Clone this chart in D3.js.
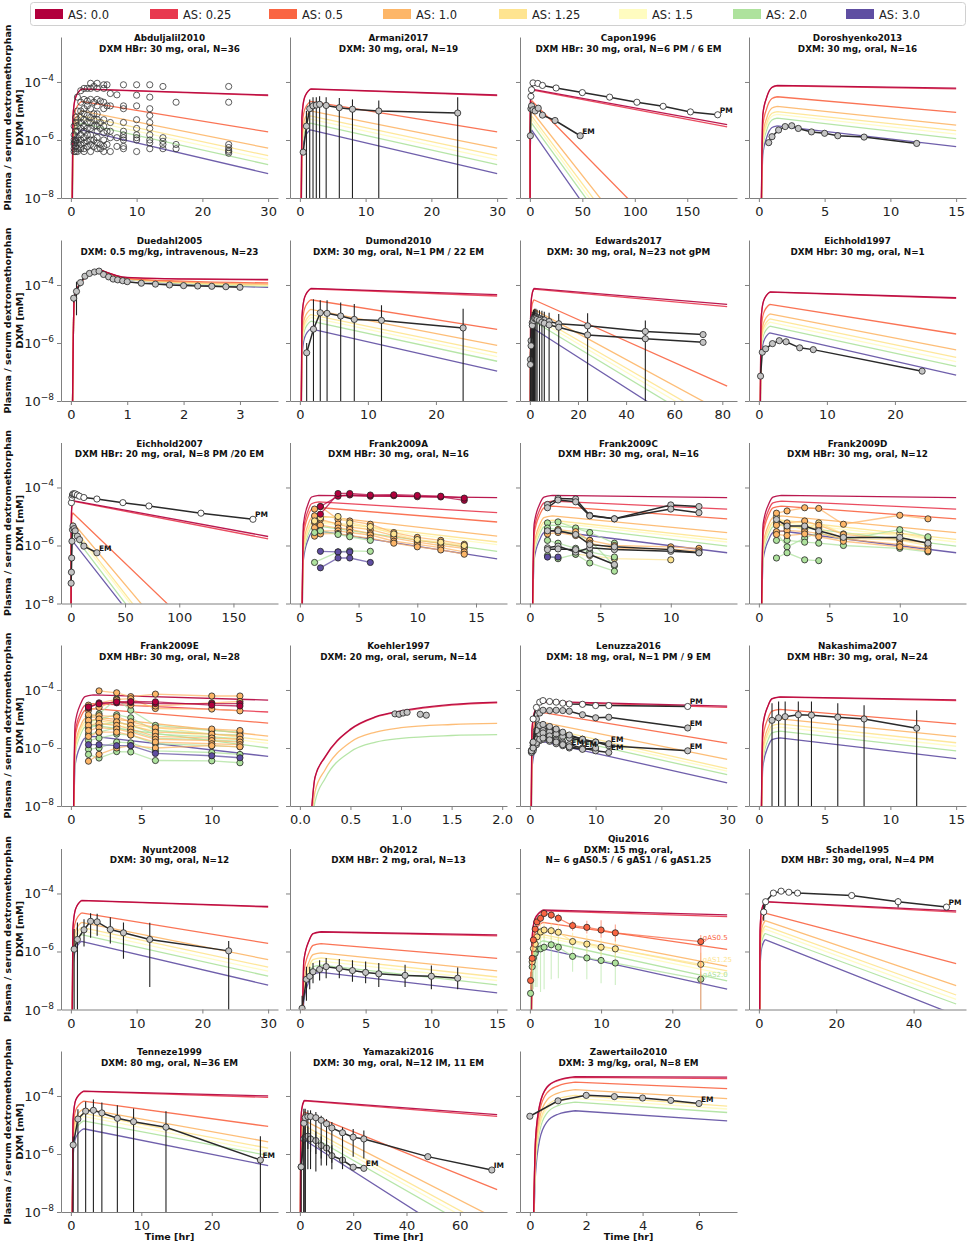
<!DOCTYPE html>
<html><head><meta charset="utf-8">
<script src="https://cdn.jsdelivr.net/npm/d3@7"></script>
<style>body{margin:0;background:#fff}svg{display:block}text{font-family:"DejaVu Sans",sans-serif}</style>
</head><body><svg id="c" width="969" height="1243"></svg>
<script>
// ---------- categories / legend ----------
const asLabels = ["AS: 0.0","AS: 0.25","AS: 0.5","AS: 1.0","AS: 1.25","AS: 1.5","AS: 2.0","AS: 3.0"];
const asColors = ["#b2003d","#e8394f","#fa6542","#fdb668","#fee490","#fffcc0","#aee29d","#5f4ea2"];

// ---------- panels ----------
const studies = ["Abduljalil2010","Armani2017","Capon1996","Doroshyenko2013","Duedahl2005","Dumond2010","Edwards2017","Eichhold1997","Eichhold2007","Frank2009A","Frank2009C","Frank2009D","Frank2009E","Koehler1997","Lenuzza2016","Nakashima2007","Nyunt2008","Oh2012","Qiu2016","Schadel1995","Tenneze1999","Yamazaki2016","Zawertailo2010"];
const subtitles = [
 ["DXM HBr: 30 mg, oral, N=36"],["DXM: 30 mg, oral, N=19"],["DXM HBr: 30 mg, oral, N=6 PM / 6 EM"],["DXM: 30 mg, oral, N=16"],
 ["DXM: 0.5 mg/kg, intravenous, N=23"],["DXM: 30 mg, oral,  N=1 PM / 22 EM"],["DXM: 30 mg, oral, N=23 not gPM"],["DXM Hbr: 30 mg, oral, N=1"],
 ["DXM HBr: 20 mg, oral, N=8 PM /20 EM"],["DXM HBr: 30 mg, oral, N=16"],["DXM HBr: 30 mg, oral, N=16"],["DXM HBr: 30 mg, oral, N=12"],
 ["DXM HBr: 30 mg, oral, N=28"],["DXM: 20 mg, oral, serum, N=14"],["DXM: 18 mg, oral, N=1 PM / 9 EM"],["DXM HBr: 30 mg, oral, N=24"],
 ["DXM: 30 mg, oral, N=12"],["DXM HBr: 2 mg, oral, N=13"],["DXM: 15 mg, oral,","N= 6 gAS0.5 / 6 gAS1 / 6 gAS1.25"],["DXM HBr: 30 mg, oral, N=4 PM"],
 ["DXM: 80 mg, oral, N=36 EM"],["DXM: 30 mg, oral, N=12 IM, 11 EM"],["DXM: 3 mg/kg, oral, N=8 EM"]];
const xMax = [30,30,188,15,3.5,29,82,29,182,16.8,14,14,14,1.95,30,15,30,15,27.7,51,28,74,7];
const xTicks = [[0,10,20,30],[0,10,20,30],[0,50,100,150],[0,5,10,15],[0,1,2,3],[0,10,20],[0,20,40,60,80],[0,10,20],
 [0,50,100,150],[0,5,10,15],[0,5,10],[0,5,10],[0,5,10],[0,0.5,1,1.5,2],[0,10,20,30],[0,5,10,15],
 [0,10,20,30],[0,5,10,15],[0,10,20],[0,20,40],[0,10,20],[0,20,40,60],[0,2,4,6]];
const yTicks = [1e-4,1e-6,1e-8];
const yTickExp = ["4","6","8"];
const yDomain = [1e-8, 3.55e-3];

// ---------- model simulations (log10 mM) per panel, 8 AS curves each ----------
const simOral30HBr = [[-10,-5.24,-4.54,-4.24,-4.45],[-10,-5.25,-4.55,-4.25,-4.47],[-10,-5.67,-4.97,-4.67,-5.72],[-10,-6.0,-5.3,-5.0,-6.28],[-10,-6.17,-5.47,-5.17,-6.54],[-10,-6.28,-5.58,-5.28,-6.68],[-10,-6.42,-5.72,-5.42,-6.85],[-10,-6.65,-5.95,-5.65,-7.16]];
const simFrankCD = [[-10,-5.27,-4.57,-4.33,-4.27,-4.35],[-10,-5.47,-4.77,-4.53,-4.47,-4.75],[-10,-5.64,-4.94,-4.7,-4.64,-5.08],[-10,-5.98,-5.28,-5.04,-4.98,-5.56],[-10,-6.13,-5.43,-5.19,-5.13,-5.79],[-10,-6.2,-5.5,-5.26,-5.2,-5.88],[-10,-6.3,-5.6,-5.36,-5.3,-6.02],[-10,-6.5,-5.8,-5.56,-5.5,-6.25]];
const simTimes = [
 [0.15,0.3,0.7,1.6,30],[0.15,0.3,0.7,1.6,30],[0.15,0.3,0.7,1.6,188],[0.15,0.3,0.6,1.0,1.4,15],
 [0.02,0.06,0.2,0.35,0.5,1.0,2.0,3.5],[0.15,0.3,0.7,1.6,29],[0.15,0.3,0.7,1.6,82],[0.15,0.3,0.7,1.6,29],
 [0.15,0.3,0.7,1.6,182],[0.15,0.3,0.7,1.0,1.6,16.8],[0.15,0.3,0.7,1.0,1.6,14],[0.15,0.3,0.7,1.0,1.6,14],
 [0.15,0.3,0.7,1.0,1.6,14],[0.08,0.15,0.25,0.5,0.75,1.0,1.5,1.95],[0.15,0.3,0.8,1.8,30],[0.15,0.3,0.7,1.0,1.6,15],
 [0.15,0.3,0.7,1.6,30],[0.15,0.3,0.7,1.0,1.6,15],[0.15,0.3,0.7,1.8,27.7],[0.15,0.3,0.7,1.6,51],
 [0.15,0.3,0.7,1.8,28],[0.15,0.3,0.7,1.6,74],[0.1,0.2,0.35,0.6,1.0,1.6,7]];
const simLog10 = [
 simOral30HBr,
 simOral30HBr,
 [[-10,-5.25,-4.55,-4.25,-5.47],[-10,-5.27,-4.57,-4.27,-5.55],[-10,-5.64,-4.94,-4.64,-11.5],[-10,-6.0,-5.3,-5.0,-13.56],[-10,-6.17,-5.47,-5.17,-14.17],[-10,-6.28,-5.58,-5.28,-14.47],[-10,-6.42,-5.72,-5.42,-14.72],[-10,-6.65,-5.95,-5.65,-15.32]],
 [[-10,-5.12,-4.52,-4.18,-4.12,-4.21],[-10,-5.13,-4.53,-4.19,-4.13,-4.24],[-10,-5.51,-4.91,-4.57,-4.51,-5.05],[-10,-5.84,-5.24,-4.9,-4.84,-5.49],[-10,-6.02,-5.42,-5.08,-5.02,-5.68],[-10,-6.12,-5.52,-5.18,-5.12,-5.8],[-10,-6.25,-5.65,-5.31,-5.25,-5.95],[-10,-6.51,-5.91,-5.57,-5.51,-6.23]],
 [[-10,-4.4,-3.85,-3.6,-3.46,-3.74,-3.79,-3.81],[-10,-4.4,-3.85,-3.6,-3.46,-3.75,-3.8,-3.83],[-10,-4.4,-3.85,-3.6,-3.47,-3.77,-3.87,-3.93],[-10,-4.4,-3.85,-3.6,-3.47,-3.78,-3.9,-3.97],[-10,-4.4,-3.85,-3.6,-3.47,-3.79,-3.92,-4.0],[-10,-4.4,-3.85,-3.6,-3.47,-3.79,-3.93,-4.01],[-10,-4.4,-3.85,-3.6,-3.47,-3.8,-3.95,-4.04],[-10,-4.4,-3.85,-3.6,-3.47,-3.8,-3.97,-4.08]],
 [[-10,-5.12,-4.42,-4.12,-4.33],[-10,-5.13,-4.43,-4.13,-4.38],[-10,-5.51,-4.81,-4.51,-5.53],[-10,-5.84,-5.14,-4.84,-6.08],[-10,-6.02,-5.32,-5.02,-6.34],[-10,-6.12,-5.42,-5.12,-6.47],[-10,-6.25,-5.55,-5.25,-6.63],[-10,-6.51,-5.81,-5.51,-6.97]],
 [[-10,-5.12,-4.42,-4.12,-4.67],[-10,-5.14,-4.44,-4.14,-4.75],[-10,-5.51,-4.81,-4.51,-7.49],[-10,-5.84,-5.14,-4.84,-8.46],[-10,-6.02,-5.32,-5.02,-8.88],[-10,-6.12,-5.42,-5.12,-9.06],[-10,-6.25,-5.55,-5.25,-9.28],[-10,-6.51,-5.81,-5.51,-9.78]],
 [[-10,-5.24,-4.54,-4.24,-4.44],[-10,-5.25,-4.55,-4.25,-4.46],[-10,-5.67,-4.97,-4.67,-5.69],[-10,-6.0,-5.3,-5.0,-6.24],[-10,-6.17,-5.47,-5.17,-6.5],[-10,-6.28,-5.58,-5.28,-6.64],[-10,-6.42,-5.72,-5.42,-6.81],[-10,-6.65,-5.95,-5.65,-7.11]],
 [[-10,-5.45,-4.75,-4.45,-5.69],[-10,-5.47,-4.77,-4.47,-5.77],[-10,-5.87,-5.17,-4.87,-11.35],[-10,-6.2,-5.5,-5.2,-13.2],[-10,-6.35,-5.65,-5.35,-14.0],[-10,-6.45,-5.75,-5.45,-14.1],[-10,-6.6,-5.9,-5.6,-14.5],[-10,-6.85,-6.15,-5.85,-14.45]],
 [[-10,-5.27,-4.57,-4.33,-4.27,-4.35],[-10,-5.5,-4.8,-4.56,-4.5,-4.87],[-10,-5.69,-4.99,-4.75,-4.69,-5.19],[-10,-5.98,-5.28,-5.04,-4.98,-5.68],[-10,-6.16,-5.46,-5.22,-5.16,-5.88],[-10,-6.21,-5.51,-5.27,-5.21,-5.97],[-10,-6.33,-5.63,-5.39,-5.33,-6.2],[-10,-6.5,-5.8,-5.56,-5.5,-6.46]],
 simFrankCD,
 simFrankCD,
 [[-10,-5.17,-4.47,-4.23,-4.17,-4.35],[-10,-5.47,-4.77,-4.53,-4.47,-4.76],[-10,-5.64,-4.94,-4.7,-4.64,-5.14],[-10,-5.93,-5.23,-4.99,-4.93,-5.59],[-10,-6.05,-5.35,-5.11,-5.05,-5.74],[-10,-6.13,-5.43,-5.19,-5.13,-5.84],[-10,-6.22,-5.52,-5.28,-5.22,-6.0],[-10,-6.6,-5.9,-5.66,-5.6,-6.29]],
 [[-10,-7.0,-6.3,-5.35,-4.92,-4.72,-4.5,-4.42],[-10,-7.02,-6.32,-5.37,-4.94,-4.74,-4.52,-4.44],null,[-10,-7.5,-6.75,-5.8,-5.45,-5.3,-5.19,-5.15],null,null,[-10,-7.85,-7.05,-6.13,-5.8,-5.67,-5.57,-5.54],null],
 [[-10,-5.39,-4.69,-4.39,-4.56],[-10,-5.41,-4.71,-4.41,-4.6],[-10,-5.77,-5.07,-4.77,-5.83],[-10,-6.11,-5.41,-5.11,-6.39],[-10,-6.28,-5.58,-5.28,-6.71],[-10,-6.38,-5.68,-5.38,-6.8],[-10,-6.5,-5.8,-5.5,-6.92],[-10,-6.77,-6.07,-5.77,-7.2]],
 [[-10,-5.24,-4.54,-4.3,-4.24,-4.34],[-10,-5.25,-4.55,-4.31,-4.25,-4.37],[-10,-5.67,-4.97,-4.73,-4.67,-5.17],[-10,-6.0,-5.3,-5.06,-5.0,-5.61],[-10,-6.17,-5.47,-5.23,-5.17,-5.82],[-10,-6.28,-5.58,-5.34,-5.28,-5.94],[-10,-6.42,-5.72,-5.48,-5.42,-6.1],[-10,-6.65,-5.95,-5.71,-5.65,-6.37]],
 simOral30HBr,
 [[-10,-6.32,-5.62,-5.38,-5.32,-5.43],[-10,-6.33,-5.63,-5.39,-5.33,-5.46],[-10,-6.73,-6.03,-5.79,-5.73,-6.24],[-10,-7.05,-6.35,-6.11,-6.05,-6.67],[-10,-7.22,-6.52,-6.28,-6.22,-6.88],[-10,-7.33,-6.63,-6.39,-6.33,-7.0],[-10,-7.47,-6.77,-6.53,-6.47,-7.15],[-10,-7.72,-7.02,-6.78,-6.72,-7.43]],
 [[-10,-5.57,-4.87,-4.57,-4.74],[-10,-5.6,-4.9,-4.6,-4.8],[-10,-6.0,-5.3,-5.0,-5.93],[-10,-6.28,-5.58,-5.28,-6.51],[-10,-6.42,-5.72,-5.42,-6.67],[-10,-6.5,-5.8,-5.5,-6.8],[-10,-6.63,-5.93,-5.63,-7.01],[-10,-6.9,-6.2,-5.9,-7.3]],
 [[-10,-5.28,-4.58,-4.28,-4.6],[-10,-5.29,-4.59,-4.29,-4.64],[-10,-5.68,-4.98,-4.68,-6.42],[-10,-5.94,-5.24,-4.94,-7.18],[-10,-6.12,-5.42,-5.12,-7.5],[-10,-6.23,-5.53,-5.23,-7.65],[-10,-6.38,-5.68,-5.38,-7.81],[-10,-6.59,-5.89,-5.59,-8.2]],
 [[-10,-4.83,-4.13,-3.83,-4.0],[-10,-4.84,-4.14,-3.84,-4.05],[-10,-5.18,-4.48,-4.18,-5.05],[-10,-5.44,-4.74,-4.44,-5.58],[-10,-5.6,-4.9,-4.6,-5.8],[-10,-5.7,-5.0,-4.7,-5.93],[-10,-5.86,-5.16,-4.86,-6.05],[-10,-6.13,-5.43,-5.13,-6.4]],
 [[-10,-5.15,-4.45,-4.15,-4.64],[-10,-5.17,-4.47,-4.17,-4.7],[-10,-5.55,-4.85,-4.55,-7.23],[-10,-5.84,-5.14,-4.84,-8.25],[-10,-6.02,-5.32,-5.02,-8.65],[-10,-6.12,-5.42,-5.12,-8.82],[-10,-6.25,-5.55,-5.25,-9.05],[-10,-6.51,-5.81,-5.51,-9.76]],
 [[-10,-5.5,-4.3,-3.7,-3.45,-3.33,-3.35],[-10,-5.5,-4.32,-3.72,-3.47,-3.36,-3.4],[-10,-5.7,-4.5,-3.9,-3.65,-3.52,-3.75],[-10,-5.95,-4.75,-4.15,-3.9,-3.78,-4.09],[-10,-6.15,-4.95,-4.35,-4.1,-3.98,-4.35],[-10,-6.25,-5.05,-4.45,-4.2,-4.08,-4.45],[-10,-6.4,-5.2,-4.6,-4.33,-4.21,-4.57],[-10,-6.7,-5.5,-4.9,-4.63,-4.51,-4.86]]
];

// ---------- observed data (mM) ----------
const B = 1e-9; // error bar end below the axis
const obsAbduljalil2010 = [{kind:"open", cols:[
 [0.5,[1e-6,7e-7,5e-7,4e-7,8e-7,1.5e-6,3e-6]],
 [0.75,[2e-6,1e-6,6e-7,4e-7,9e-7,4e-6,6e-6]],
 [1,[3e-5,1e-5,5e-6,3e-6,2e-6,1.2e-6,8e-7,5e-7,4e-7]],
 [1.5,[5e-5,2e-5,1e-5,6e-6,4e-6,2.5e-6,1.5e-6,1e-6,7e-7,5e-7]],
 [2,[6e-5,2.5e-5,1.2e-5,8e-6,5e-6,3e-6,2e-6,1.2e-6,8e-7,5e-7,4e-7]],
 [2.5,[6e-5,2.2e-5,1.5e-5,7e-6,4e-6,2.5e-6,1.5e-6,9e-7,6e-7]],
 [3,[9e-5,6e-5,2.5e-5,1.2e-5,6e-6,4e-6,2.5e-6,1.5e-6,1e-6,7e-7,4e-7]],
 [3.5,[7e-5,2e-5,8e-6,5e-6,3e-6,1e-6,6e-7]],
 [4,[9e-5,6e-5,2.5e-5,1.5e-5,8e-6,5e-6,3e-6,2e-6,1.2e-6,8e-7,5e-7]],
 [4.5,[2.2e-5,4e-6,2.5e-6,7e-7,5e-7]],
 [5,[8e-5,6e-5,2e-5,1.2e-5,5e-6,3e-6,1.8e-6,1e-6,6e-7,4e-7]],
 [5.5,[8e-5,1.5e-5,2e-6,7e-7]],
 [6,[4e-5,1.5e-5,4e-6,2e-6,1.2e-6,4e-7]],
 [7,[3.6e-5,1.2e-6,6e-7]],
 [8,[8e-5,1.5e-5,1.2e-5,4e-6,2e-6,1.5e-6,1.2e-6,1e-6,6e-7,5e-7]],
 [10,[8e-5,3.5e-5,1.5e-5,5e-6,2.5e-6,1.5e-6,1.2e-6,1e-6,4e-7]],
 [12,[8e-5,3e-5,1.2e-5,7e-6,4e-6,2.5e-6,1.5e-6,1e-6,8e-7,5e-7]],
 [14,[7e-5,1.2e-6,9e-7,7e-7,5e-7]],
 [16,[2e-5,7e-7,5e-7]],
 [24,[7e-5,2e-5,7e-7,5.5e-7,4.5e-7,4e-7,3.5e-7]]]}];
const obsArmani2017 = [{kind:"grey", t:[0.5,1,1.5,2,2.5,3,4,6,8,12,24], v:[3.8e-7,3e-6,1.2e-5,1.5e-5,1.6e-5,1.7e-5,1.55e-5,1.3e-5,1.15e-5,1e-5,8.5e-6],
 lo:[null,B,B,B,B,B,B,B,B,B,B], hi:[null,1e-5,2.5e-5,3e-5,3e-5,3.2e-5,3e-5,2.8e-5,2.5e-5,2.3e-5,3e-5]}];
const obsCapon1996 = [
 {kind:"white", t:[1,1.6,3,7.6,12,25,50,76,102,127,153,179], v:[3.2e-5,5.4e-5,9.3e-5,8.9e-5,7.6e-5,6.2e-5,4.3e-5,3e-5,2e-5,1.45e-5,9.3e-6,7.4e-6], label:"PM"},
 {kind:"grey", t:[0.5,1,1.6,3,5,8,12,24,48], v:[1.4e-6,1.2e-5,1.5e-5,1.1e-5,1e-5,1.25e-5,7.2e-6,4.7e-6,1.4e-6], label:"EM"}];
const obsDoroshyenko2013 = [{kind:"grey", t:[0.75,1,1.5,2,2.5,3,4,5,6,8,12], v:[8.1e-7,1.3e-6,2.2e-6,2.9e-6,3.1e-6,2.5e-6,1.9e-6,1.7e-6,1.4e-6,1.26e-6,7.6e-7]}];
const obsDuedahl2005 = [{kind:"grey", t:[0.05,0.1,0.17,0.25,0.33,0.42,0.5,0.58,0.67,0.75,0.83,0.92,1.0,1.25,1.5,1.75,2.0,2.25,2.5,2.75,3.0],
 v:[3.5e-5,6e-5,1.2e-4,2e-4,2.5e-4,2.8e-4,3e-4,2.3e-4,1.9e-4,1.6e-4,1.5e-4,1.4e-4,1.3e-4,1.15e-4,1.07e-4,1e-4,9.5e-5,9.2e-5,9e-5,8.7e-5,8.3e-5],
 lo:[2.5e-5,9e-6,9e-5,1.6e-4,2.1e-4,2.4e-4,2.6e-4,2e-4,1.6e-4,1.35e-4,1.25e-4,1.2e-4,1.1e-4,9.5e-5,9e-5,8.5e-5,8e-5,7.8e-5,7.5e-5,7.2e-5,7e-5],
 hi:[4.5e-5,1.3e-4,1.5e-4,2.4e-4,3e-4,3.3e-4,3.5e-4,2.7e-4,2.2e-4,1.9e-4,1.8e-4,1.65e-4,1.5e-4,1.35e-4,1.25e-4,1.2e-4,1.12e-4,1.08e-4,1.06e-4,1.03e-4,9.8e-5]}];
const obsDumond2010 = [{kind:"grey", t:[1,2,3,4,6,8,12,24], v:[4.6e-7,3e-6,1.1e-5,1.05e-5,8.5e-6,6.5e-6,6e-6,3.3e-6],
 lo:[B,B,B,B,B,B,B,B], hi:[1e-6,3.2e-5,3e-5,3e-5,2.5e-5,2.2e-5,2e-5,1.5e-5]}];
const obsEdwards2017 = [
 {kind:"grey", t:[0.25,0.5,1,1.5,2,2.5,3,4,5,6,8,12,24,48,72], v:[2.7e-7,1.2e-6,5e-6,7e-6,8e-6,8e-6,7.5e-6,7e-6,6.5e-6,6.2e-6,5.5e-6,4.6e-6,3.9e-6,2.5e-6,1.95e-6],
  lo:[B,B,B,B,B,B,B,B,B,B,B,B,B,B,null], hi:[5e-7,4e-6,1.2e-5,1.4e-5,1.5e-5,1.5e-5,1.4e-5,1.35e-5,1.3e-5,1.2e-5,1.1e-5,1e-5,1.05e-5,6e-6,null]},
 {kind:"grey", t:[0.25,0.5,1,1.5,2,2.5,3,4,5,6,8,12,24,48,72], v:[1.8e-7,8e-7,4e-6,6e-6,7e-6,7e-6,6.5e-6,6e-6,5.2e-6,4.8e-6,4.2e-6,3.5e-6,1.9e-6,1.4e-6,1.05e-6],
  lo:[B,B,B,B,B,null,null,null,null,null,null,null,null,null,null], hi:[4e-7,3e-6,1e-5,1.2e-5,1.3e-5,null,null,null,null,null,null,null,null,null,null]}];
const obsEichhold1997 = [{kind:"grey", t:[0.25,0.5,1,2,3,4,6,8,24], v:[7.2e-8,4.8e-7,6.3e-7,9.5e-7,1.2e-6,1.1e-6,6.8e-7,5.9e-7,1.07e-7]}];
const obsEichhold2007 = [
 {kind:"white", t:[0.5,1,1.5,2,3,4,6,8,12,24,48,72,120,168], v:[3e-5,4.5e-5,5.5e-5,6e-5,6e-5,6e-5,5.5e-5,5e-5,4.5e-5,4e-5,3e-5,2.3e-5,1.3e-5,8e-6], label:"PM"},
 {kind:"grey", t:[0.25,0.5,0.75,1,1.5,2,3,4,6,8,12,24], v:[5e-8,1.2e-7,3.7e-7,1.4e-6,3.5e-6,4.7e-6,3.8e-6,3.2e-6,2.1e-6,1.6e-6,9.5e-7,5.6e-7], label:"EM"}];
const frankA_T = [1.25,1.75,3.25,4.25,6,8,10,12,14];
const obsFrank2009A = [
 {kind:3, t:frankA_T, v:[1.8e-5,2.2e-5,8e-6,7e-6,5.4e-6,2.8e-6,1.9e-6,1.5e-6,1.1e-6]},
 {kind:3, t:frankA_T, v:[1.05e-5,8e-6,5.5e-6,4.3e-6,3.5e-6,2.2e-6,1.5e-6,1.2e-6,9e-7]},
 {kind:3, t:frankA_T, v:[6.2e-6,5e-6,4e-6,3.6e-6,2.6e-6,1.8e-6,1.3e-6,1e-6,8e-7]},
 {kind:3, t:frankA_T, v:[4.1e-6,3.2e-6,3.2e-6,2.8e-6,2.3e-6,1.4e-6,1.1e-6,8.5e-7,6e-7]},
 {kind:3, t:frankA_T, v:[2.1e-6,2.5e-6,2.6e-6,2.2e-6,1.8e-6,1.2e-6,9e-7,7e-7,5e-7]},
 {kind:4, t:frankA_T, v:[7e-6,9e-6,1e-5,6e-6,4.5e-6,2.5e-6,1.6e-6,1.3e-6,1e-6]},
 {kind:6, t:frankA_T, v:[2.6e-7,null,6e-7,6.5e-7,6.3e-7,null,null,null,null]},
 {kind:6, t:frankA_T, v:[2.8e-6,3.2e-6,2.4e-6,2e-6,1.5e-6,null,null,null,null]},
 {kind:7, t:frankA_T, v:[null,6.3e-7,6e-7,6e-7,null,null,null,null,null]},
 {kind:7, t:frankA_T, v:[null,1.7e-7,3.7e-7,3.7e-7,2.6e-7,null,null,null,null]},
 {kind:0, t:frankA_T, v:[null,2.2e-5,5e-5,5.5e-5,5e-5,5.2e-5,4.8e-5,4.7e-5,3.6e-5]},
 {kind:0, t:frankA_T, v:[null,1.2e-5,6.2e-5,6.2e-5,5.5e-5,5.6e-5,5.3e-5,5e-5,4.3e-5]}];
const frankT = [1.25,2,3.25,4.25,6,10,12];
const obsFrank2009C = [
 {kind:4, t:frankT, v:[null,null,5e-7,4.5e-7,3.5e-7,3.2e-7,null]},
 {kind:6, t:frankT, v:[6e-6,6.5e-6,4e-6,2.8e-6,1.2e-6,null,null]},
 {kind:6, t:frankT, v:[4e-6,3.5e-6,2.5e-6,1.5e-6,2e-7,null,null]},
 {kind:6, t:frankT, v:[4.5e-7,3.5e-7,5e-7,2.5e-7,1.3e-7,null,null]},
 {kind:6, t:frankT, v:[1.5e-6,1.2e-6,8e-7,6e-7,4e-7,null,null]},
 {kind:3, t:frankT, v:[3e-6,3.5e-6,3e-6,1.5e-6,1e-6,9e-7,8e-7]},
 {kind:3, t:frankT, v:[2.5e-6,2.8e-6,2.2e-6,1.2e-6,8e-7,7.5e-7,6.5e-7]},
 {kind:7, t:frankT, v:[4e-7,4e-7,null,null,null,null,null]},
 {kind:"grey", t:frankT, v:[2.6e-5,4.2e-5,4e-5,1.1e-5,8.3e-6,2.5e-5,2.2e-5]},
 {kind:"grey", t:frankT, v:[2e-5,3.7e-5,3.2e-5,1.05e-5,8.3e-6,1.8e-5,1.35e-5]},
 {kind:"grey", t:frankT, v:[8.3e-7,9.5e-7,5.9e-7,8.3e-7,7.2e-7,6.3e-7,5.6e-7]},
 {kind:"grey", t:frankT, v:[3.2e-6,3.2e-6,2.4e-6,1.07e-6,9e-7,7.2e-7,5.6e-7]},
 {kind:"grey", t:frankT, v:[7.2e-7,7.6e-7,7.2e-7,4.9e-7,2.2e-7,null,null]}];
const obsFrank2009D = [
 {kind:4, t:frankT, v:[1e-5,5e-6,3.5e-6,6e-6,2.5e-6,2.6e-6,1.8e-6]},
 {kind:4, t:frankT, v:[6e-6,4e-6,4.5e-6,4e-6,1.8e-6,1.5e-6,1e-6]},
 {kind:6, t:frankT, v:[2.8e-6,9e-7,1.8e-6,2.8e-6,1.6e-6,3.5e-6,2e-6]},
 {kind:6, t:frankT, v:[3.7e-7,5.6e-7,3.2e-7,3e-7,null,null,null]},
 {kind:6, t:frankT, v:[1.5e-6,1.5e-6,1.3e-6,1.2e-6,1e-6,8e-7,6e-7]},
 {kind:3, t:frankT, v:[1.3e-5,1.55e-5,2e-5,1.9e-5,5.4e-6,1.1e-5,8.3e-6]},
 {kind:3, t:frankT, v:[5e-6,6e-6,7e-6,5e-6,2.4e-6,1.6e-6,1.2e-6]},
 {kind:3, t:frankT, v:[3e-6,3.3e-6,3e-6,2.6e-6,1.7e-6,1.1e-6,8e-7]},
 {kind:3, t:frankT, v:[2.4e-6,2.2e-6,2.5e-6,2e-6,1.4e-6,9e-7,6.5e-7]},
 {kind:"grey", t:frankT, v:[7.9e-6,4.7e-6,4.7e-6,3.2e-6,1.9e-6,1.9e-6,1.2e-6]}];
const obsFrank2009E = [
 {kind:6, t:frankT, v:[1.2e-5,1.5e-5,5e-5,2e-5,6e-6,4e-6,3.5e-6]},
 {kind:6, t:frankT, v:[8e-6,1e-5,1.4e-5,1.1e-5,4e-6,3e-6,2.8e-6]},
 {kind:6, t:frankT, v:[5e-6,6e-6,8e-6,6e-6,3e-6,2.4e-6,2.1e-6]},
 {kind:6, t:frankT, v:[3e-6,3.5e-6,5e-6,4e-6,2.2e-6,1.9e-6,1.7e-6]},
 {kind:6, t:frankT, v:[1.8e-6,2.2e-6,3e-6,2.8e-6,1.4e-6,1.2e-6,1.1e-6]},
 {kind:6, t:frankT, v:[9e-7,1e-6,1.6e-6,1.5e-6,8e-7,7e-7,6e-7]},
 {kind:6, t:frankT, v:[6e-7,4.5e-7,7.5e-7,7.3e-7,3.7e-7,3.6e-7,3.1e-7]},
 {kind:3, t:frankT, v:[null,9.3e-5,8e-5,5.9e-5,7.2e-5,6.2e-5,6.2e-5]},
 {kind:3, t:frankT, v:[3e-5,null,4.7e-5,5e-5,2.3e-5,2.2e-5,1.9e-5]},
 {kind:3, t:frankT, v:[2e-5,2.5e-5,4.5e-5,3e-5,2.8e-5,3.6e-5,4e-5]},
 {kind:3, t:frankT, v:[1.4e-5,1.3e-5,1.2e-5,8e-6,5e-6,4.5e-6,4e-6]},
 {kind:3, t:frankT, v:[9e-6,1e-5,8e-6,6e-6,3.5e-6,3e-6,2.6e-6]},
 {kind:3, t:frankT, v:[6e-6,7e-6,6e-6,4.5e-6,2.5e-6,2.2e-6,2e-6]},
 {kind:3, t:frankT, v:[4e-6,5e-6,4.5e-6,3.5e-6,2e-6,1.8e-6,1.6e-6]},
 {kind:3, t:frankT, v:[2.5e-6,3.5e-6,3.5e-6,2.8e-6,1.6e-6,1.4e-6,1.3e-6]},
 {kind:3, t:frankT, v:[3.5e-7,6e-7,1e-6,1.2e-6,1e-6,1.2e-6,1.1e-6]},
 {kind:7, t:frankT, v:[1.3e-6,1.3e-6,1.2e-6,1.2e-6,6.5e-7,5.4e-7,4.6e-7]},
 {kind:0, t:frankT, v:[2.4e-5,3.6e-5,3.6e-5,3.7e-5,3.4e-5,3.4e-5,3.4e-5]},
 {kind:0, t:frankT, v:[2.6e-5,3.3e-5,3.9e-5,4e-5,3.9e-5,3e-5,2.8e-5]}];
const obsKoehler1997 = [{kind:"grey", line:false, t:[0.94,0.98,1.02,1.06,1.19,1.25], v:[1.5e-5,1.45e-5,1.6e-5,1.7e-5,1.45e-5,1.35e-5]}];
const lenuzzaT = [0.25,0.5,1,1.5,2,3,4,5,6,8,10,12,24];
const obsLenuzza2016 = [
 {kind:"grey", t:lenuzzaT, v:[8e-7,1.5e-6,3e-6,4.5e-6,5e-6,4.5e-6,4e-6,3.2e-6,2.6e-6,2e-6,1.6e-6,1.2e-6,8e-7], label:"EM"},
 {kind:"grey", t:lenuzzaT.slice(0,12), v:[8e-7,1.2e-6,2.5e-6,3.5e-6,4e-6,3.6e-6,3e-6,2.5e-6,2.2e-6,1.8e-6,1.6e-6,1.4e-6], label:"EM"},
 {kind:"grey", t:lenuzzaT.slice(0,12), v:[7.5e-7,9e-7,1.8e-6,2.5e-6,2.8e-6,2.4e-6,2e-6,1.6e-6,1.3e-6,1e-6,8e-7,7e-7], label:"EM"},
 {kind:"grey", t:lenuzzaT.slice(0,9), v:[8e-7,1e-6,2e-6,3e-6,3.3e-6,2.6e-6,1.8e-6,1.4e-6,1.05e-6], label:"EM"},
 {kind:"grey", t:lenuzzaT.slice(0,10), v:[7e-7,8e-7,1.3e-6,1.8e-6,2e-6,1.7e-6,1.4e-6,1.2e-6,1e-6,9.5e-7], label:"EM"},
 {kind:"grey", t:lenuzzaT.slice(0,10), v:[8e-7,1.5e-6,4e-6,6e-6,6.5e-6,5.5e-6,4.5e-6,3.5e-6,2.8e-6,2e-6]},
 {kind:"grey", t:lenuzzaT.slice(0,11), v:[8e-7,1e-6,1.5e-6,2e-6,2.2e-6,1.9e-6,1.6e-6,1.3e-6,1.1e-6,9e-7,1e-6]},
 {kind:"grey", t:lenuzzaT.slice(1), v:[1.6e-6,1e-5,1.6e-5,2e-5,1.95e-5,2e-5,1.95e-5,1.85e-5,1.4e-5,1.1e-5,1.15e-5,4.9e-6], label:"EM"},
 {kind:"white", t:lenuzzaT.slice(1), v:[1e-5,2.5e-5,3.8e-5,4.3e-5,4e-5,3.8e-5,3.5e-5,3.3e-5,3.2e-5,2.9e-5,2.9e-5,2.7e-5], label:"PM"}];
const obsNakashima2007 = [{kind:"grey", t:[1,1.5,2,3,4,6,8,12], v:[9e-6,1.1e-5,1.2e-5,1.4e-5,1.35e-5,1.15e-5,1e-5,4.8e-6],
 lo:[B,B,B,B,B,B,B,B], hi:[3.5e-5,4e-5,4e-5,4e-5,4e-5,3.5e-5,3e-5,2e-5]}];
const obsNyunt2008 = [{kind:"grey", t:[0.5,1,2,3,4,6,8,12,24], v:[1.2e-6,2.6e-6,5.6e-6,1.1e-5,1.05e-5,5.7e-6,4.4e-6,2.6e-6,1.05e-6],
 lo:[B,B,1.5e-6,3e-6,3.5e-6,1.9e-6,5.6e-7,6e-8,B], hi:[6e-6,1e-5,1.3e-5,2.1e-5,2e-5,1.5e-5,1e-5,9.8e-6,2.3e-6]}];
const obsOh2012 = [{kind:"grey", t:[0.17,0.5,0.75,1,1.5,2,3,4,5,6,8,10,12], v:[1.1e-8,1.1e-7,1.4e-7,2e-7,2.4e-7,3e-7,2.6e-7,2.2e-7,1.9e-7,1.7e-7,1.5e-7,1.4e-7,1.2e-7],
 lo:[B,2e-8,5e-8,8e-8,1e-7,1.2e-7,1.2e-7,9e-8,8e-8,6e-8,6e-8,5e-8,5e-8], hi:[3e-8,3e-7,3e-7,4e-7,5e-7,6e-7,5.5e-7,5e-7,4.5e-7,4e-7,3.5e-7,3.3e-7,2.8e-7]}];
const qiuT = [0.1,0.33,0.5,0.75,1,1.5,2,3,4,6,8,10,12,24];
const obsQiu2016 = [
 {kind:6, t:qiuT, v:[3.6e-8,3e-7,6e-7,8.7e-7,1.23e-6,1.23e-6,1.4e-6,1.7e-6,1.4e-6,6.8e-7,6e-7,4.9e-7,4e-7,1.1e-7],
  lo:[B,4e-8,5e-8,6e-8,6e-8,4e-8,5e-8,1.1e-7,1.2e-7,2e-7,1.1e-7,8e-8,7e-8,B], hi:[2e-7,8e-7,1.5e-6,2.5e-6,3e-6,3.2e-6,3.5e-6,3.5e-6,3.2e-6,1.8e-6,1.7e-6,1.4e-6,1.3e-6,2e-7], label:"gAS2.0"},
 {kind:4, t:qiuT, v:[null,4.4e-7,1.26e-6,1.8e-6,3.2e-6,4.7e-6,5.5e-6,5.2e-6,4.6e-6,2.2e-6,1.8e-6,1.4e-6,1.23e-6,3.6e-7],
  lo:[null,2e-7,6e-7,9e-7,1.6e-6,2.4e-6,2.8e-6,2.6e-6,2.3e-6,1.1e-6,9e-7,7e-7,6e-7,1.2e-7], hi:[null,9e-7,2.5e-6,3.6e-6,6.4e-6,9.4e-6,1.1e-5,1e-5,9e-6,4.4e-6,3.6e-6,2.8e-6,2.5e-6,9e-7], label:"gAS1.25"},
 {kind:2, t:qiuT, v:[1e-7,5.8e-7,2.5e-6,5.9e-6,1.05e-5,1.4e-5,2.05e-5,1.8e-5,1.4e-5,7.8e-6,6.8e-6,5.5e-6,4.4e-6,2.2e-6],
  lo:[5e-8,3e-7,1.5e-6,4e-6,7e-6,1e-5,1.5e-5,1.3e-5,1e-5,5.2e-6,4.2e-6,3e-6,2.2e-6,B], hi:[2e-7,1e-6,4e-6,8e-6,1.4e-5,1.9e-5,2.7e-5,2.5e-5,2e-5,1.15e-5,1.15e-5,1.2e-5,8.5e-6,3.7e-6], label:"gAS0.5"}];
const obsSchadel1995 = [{kind:"white", t:[1.25,1.75,3.75,5.75,7.75,10,24,36,48.5], v:[2.3e-5,5.2e-5,1.03e-4,1.2e-4,1.1e-4,1.03e-4,8.5e-5,5.2e-5,3.4e-5],
 lo:[1.15e-5,4.2e-5,null,null,null,null,null,3.3e-5,2.9e-5], hi:[4.8e-5,6e-5,null,null,null,null,null,7e-5,4.2e-5], label:"PM"}];
const obsTenneze1999 = [{kind:"grey", t:[0.33,1.0,2.1,3.2,4.4,6.6,8.9,13.5,26.9], v:[2.05e-6,1.6e-5,3e-5,3.2e-5,2.6e-5,1.7e-5,1.3e-5,8.4e-6,6.2e-7],
 lo:[B,B,B,B,B,B,B,B,B], hi:[4e-6,3.5e-5,6.5e-5,7.6e-5,5.9e-5,4.8e-5,3.7e-5,3e-5,4.1e-6], label:"EM"}];
const obsYamazaki2016 = [
 {kind:"grey", t:[0.5,1.5,2,3,4,6,8,10,12,16,20,24], v:[3.6e-7,3.3e-6,3.8e-6,4.1e-6,3.3e-6,2.9e-6,1.95e-6,1.6e-6,8.7e-7,6.2e-7,3.5e-7,3.2e-7],
  lo:[B,B,B,1.5e-6,1.2e-6,1e-6,7e-7,6e-7,3e-7,null,null,null], hi:[null,8e-6,9e-6,9e-6,7e-6,6e-6,4e-6,3.5e-6,2e-6,null,null,null], label:"EM"},
 {kind:"grey", t:[0.5,1.5,2,3,4,6,8,10,12,16,20,24,48,72], v:[3.6e-7,1.15e-5,1.78e-5,1.95e-5,1.95e-5,1.78e-5,1.45e-5,1.1e-5,7.9e-6,5.4e-6,3.8e-6,3.3e-6,8.1e-7,2.8e-7],
  lo:[null,B,B,3e-7,3e-7,2.5e-7,4e-7,4e-7,5e-7,3e-7,8e-7,7e-7,null,null], hi:[null,3.6e-5,3.6e-5,3.2e-5,3.2e-5,2.8e-5,2.1e-5,1.6e-5,1.26e-5,8.3e-6,7.2e-6,6.4e-6,null,null], label:"IM"}];
const obsZawertailo2010 = [{kind:"grey", t:[0,1,2,3,4,5,6], v:[2e-5,6.8e-5,1.05e-4,9.5e-5,8.5e-5,7e-5,5.5e-5], label:"EM"}];
const panelObs = [obsAbduljalil2010,obsArmani2017,obsCapon1996,obsDoroshyenko2013,obsDuedahl2005,obsDumond2010,obsEdwards2017,obsEichhold1997,
 obsEichhold2007,obsFrank2009A,obsFrank2009C,obsFrank2009D,obsFrank2009E,obsKoehler1997,obsLenuzza2016,obsNakashima2007,
 obsNyunt2008,obsOh2012,obsQiu2016,obsSchadel1995,obsTenneze1999,obsYamazaki2016,obsZawertailo2010];

// ---------- layout ----------
const svg = d3.select("#c");
const colLeft = [61, 290, 520, 749];
const rowBottom = [198, 401, 603.5, 806, 1009.5, 1212];
const axW = 217, axH = 161;
const spine = "#808080";

// legend
const legX = [35, 150, 269, 383, 499, 619, 733, 846];
svg.append("rect").attr("x",30.5).attr("y",2.5).attr("width",935).attr("height",23).attr("rx",3)
  .attr("fill","#fff").attr("stroke","#d0d0d0");
asLabels.forEach((lab,i)=>{
  svg.append("rect").attr("x",legX[i]).attr("y",9).attr("width",28).attr("height",10).attr("fill",asColors[i]);
  svg.append("text").attr("x",legX[i]+33).attr("y",18.5).attr("font-size",11.5).attr("fill","#222").text(lab);
});

const lineMono = d3.line().curve(d3.curveMonotoneX);
const lineLin = d3.line();

studies.forEach((name, i) => {
  const row = Math.floor(i/4), col = i%4;
  const left = colLeft[col], bottom = rowBottom[row], top = bottom - axH;
  const pad = 0.05*xMax[i];
  const x = d3.scaleLinear().domain([-pad, xMax[i]+pad]).range([0, axW]);
  const y = d3.scaleLog().domain(yDomain).range([axH, 0]);
  const g = svg.append("g").attr("transform",`translate(${left},${top})`);
  const cid = "clip"+i;
  g.append("clipPath").attr("id",cid).append("rect").attr("x",0).attr("y",0).attr("width",axW).attr("height",axH);
  const plot = g.append("g").attr("clip-path",`url(#${cid})`);

  // model curves
  const T = simTimes[i];
  for (let k = 7; k >= 0; k--) {
    const arr = simLog10[i][k];
    if (!arr) continue;
    const pts = T.map((t,j)=>[x(t), y(Math.pow(10, arr[j]))]);
    let pk = 0; arr.forEach((v,j)=>{ if (v > arr[pk]) pk = j; });
    let d = lineMono(pts.slice(0, pk+1));
    const dec = pts.slice(pk);
    if (dec.length === 2) d += lineLin(dec); else if (dec.length > 2) d += lineMono(dec);
    plot.append("path").attr("d", d).attr("fill","none").attr("stroke",asColors[k])
      .attr("stroke-width",1.3).attr("stroke-opacity",0.9);
  }

  // observations
  panelObs[i].forEach(s => {
    const colored = typeof s.kind === "number";
    const fill = colored ? asColors[s.kind] : (s.kind === "grey" ? "#c4c4c4" : (s.kind === "white" ? "#fff" : "none"));
    let pts;
    if (s.cols) pts = s.cols.flatMap(([t, vs]) => vs.map(v => ({t, v})));
    else pts = s.t.map((t,j)=>({t, v:s.v[j], lo:s.lo?s.lo[j]:null, hi:s.hi?s.hi[j]:null})).filter(p => p.v != null);
    if (s.lo || s.hi) {
      pts.forEach(p => {
        if (p.lo == null && p.hi == null) return;
        plot.append("line").attr("x1",x(p.t)).attr("x2",x(p.t))
          .attr("y1",y(p.lo == null ? p.v : p.lo)).attr("y2",y(p.hi == null ? p.v : p.hi))
          .attr("stroke", colored ? asColors[s.kind] : "#222").attr("stroke-opacity", colored ? 0.6 : 1)
          .attr("stroke-width",1.1);
      });
    }
    if (!s.cols && s.line !== false) {
      plot.append("path").attr("d", d3.line().x(p=>x(p.t)).y(p=>y(p.v))(pts)).attr("fill","none")
        .attr("stroke", colored ? asColors[s.kind] : "#2a2a2a")
        .attr("stroke-opacity", colored ? 0.75 : 1)
        .attr("stroke-width", colored ? 1.3 : 1.5);
    }
    plot.selectAll(null).data(pts).enter().append("circle")
      .attr("cx",p=>x(p.t)).attr("cy",p=>y(p.v)).attr("r",3.1)
      .attr("fill",fill).attr("stroke", s.kind === "open" ? "#333" : "#222").attr("stroke-width",0.8);
    if (s.label) {
      const lp = pts[pts.length-1];
      g.append("text").attr("x",x(lp.t)+2).attr("y",y(lp.v)-2)
        .attr("font-size", colored ? 7 : 7.5).attr("font-weight", colored ? "normal" : "bold")
        .attr("fill", colored ? asColors[s.kind] : "#111").text(s.label);
    }
  });

  // axes
  const xa = d3.axisBottom(x).tickValues(xTicks[i]).tickSize(4).tickSizeOuter(0)
    .tickFormat(xTicks[i].some(v=>!Number.isInteger(v)) ? d3.format(".1f") : d3.format("d"));
  const gx = g.append("g").attr("transform",`translate(0,${axH})`).call(xa);
  gx.select(".domain").attr("stroke",spine);
  gx.selectAll(".tick line").attr("stroke",spine);
  gx.selectAll(".tick text").attr("font-size",13).attr("fill","#222").attr("font-family","DejaVu Sans").attr("dy","0.85em");
  const ya = d3.axisLeft(y).tickValues(yTicks).tickSize(4).tickSizeOuter(0).tickFormat("");
  const gy = g.append("g").call(ya);
  gy.select(".domain").attr("stroke",spine);
  gy.selectAll(".tick line").attr("stroke",spine);
  if (col === 0) {
    yTicks.forEach((v,j)=>{
      const t = g.append("text").attr("x",-7).attr("y",y(v)+5).attr("text-anchor","end").attr("fill","#222").attr("font-size",13);
      t.append("tspan").text("10");
      t.append("tspan").attr("dy",-6).attr("font-size",9).text("\u2212"+yTickExp[j]);
    });
    const cy = top + axH/2;
    const yl = svg.append("text").attr("transform",`translate(11,${cy}) rotate(-90)`).attr("text-anchor","middle")
      .attr("font-size",9.5).attr("font-weight","bold").attr("fill","#111");
    yl.append("tspan").attr("x",0).attr("y",0).text("Plasma / serum dextromethorphan");
    yl.append("tspan").attr("x",0).attr("y",11.5).text("DXM [mM]");
  }
  // title
  const lines = [name].concat(subtitles[i]);
  const tt = g.append("text").attr("text-anchor","middle").attr("font-size",8.8).attr("font-weight","bold").attr("fill","#111");
  lines.forEach((ln,j)=>{
    tt.append("tspan").attr("x",axW/2).attr("y",14.5 - 10.5*(lines.length-1-j)).text(ln);
  });
  if (row === 5) {
    g.append("text").attr("x",axW/2).attr("y",axH+28).attr("text-anchor","middle").attr("font-size",9.5)
      .attr("font-weight","bold").attr("fill","#111").text("Time [hr]");
  }
});
</script></body></html>
